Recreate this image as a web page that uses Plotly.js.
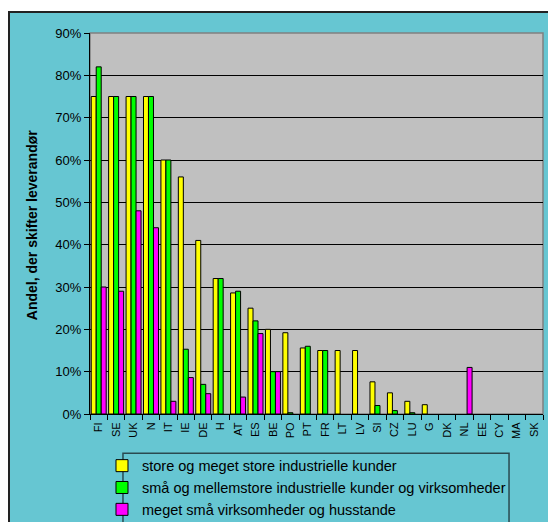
<!DOCTYPE html>
<html>
<head>
<meta charset="utf-8">
<script src="https://cdn.plot.ly/plotly-3.0.1.min.js"></script>
<style>
html,body{margin:0;padding:0;background:#ffffff;width:548px;height:522px;overflow:hidden;}
#frame{position:absolute;left:8px;top:11px;width:540px;height:511px;background:#66C6D2;border-left:2px solid #222;border-top:2px solid #222;box-sizing:border-box;}
#chart{position:absolute;left:0;top:0;width:538px;height:509px;}
</style>
</head>
<body>
<div id="frame"><div id="chart"></div></div>
<script>
const countries = ["FI","SE","UK","N","IT","IE","DE","H","AT","ES","BE","PO","PT","FR","LT","LV","SI","CZ","LU","G","DK","NL","EE","CY","MA","SK"];
const seriesNames = [
  "store og meget store industrielle kunder",
  "små og mellemstore industrielle kunder og virksomheder",
  "meget små virksomheder og husstande"
];
const yTitle = "Andel, der skifter leverandør";
const storeKunder   = [75,75,75,75,60,56,41,32,28.6,25,20,19.2,15.6,15,15,15,7.6,5,3,2.2,null,null,null,null,null,null];
const smaaMellem    = [82,75,75,75,60,15.3,7,32,29,22,10,0.3,16,15,null,null,2,0.8,0.3,null,null,null,null,null,null,null];
const megetSmaa     = [30,29,48,44,3,8.6,4.8,null,4,19,10,null,null,null,null,null,null,null,null,null,null,11,null,null,null,null];

const colors = ["#FFFF00","#00FF00","#FF00FF"];
const values = [storeKunder, smaaMellem, megetSmaa];

const traces = values.map((v,i)=>({
  type:"bar",
  name: seriesNames[i],
  x: countries,
  y: v,
  legendgroup: "g"+i,
  marker:{color:colors[i], line:{color:"#000", width:1}},
  hoverinfo:"none"
}));

const FONT = "Liberation Sans, Arial, sans-serif";
const layout = {
  width:538, height:509,
  paper_bgcolor:"rgba(0,0,0,0)",
  plot_bgcolor:"#C0C0C0",
  margin:{l:80, r:5, t:20, b:108, autoexpand:false},
  barmode:"group",
  bargap:0.14,
  bargroupgap:0,
  font:{family:FONT, color:"#000", size:13},
  xaxis:{
    type:"category",
    tickangle:-90,
    tickson:"boundaries",
    ticks:"outside", ticklen:5, tickcolor:"#000", tickwidth:1,
    ticklabelstandoff:3,
    tickfont:{size:11, family:FONT, color:"#000"},
    showline:true, linecolor:"#000", linewidth:1,
    showgrid:false, zeroline:false,
    fixedrange:true
  },
  yaxis:{
    range:[0,90], dtick:10, ticksuffix:"%",
    ticks:"outside", ticklen:5, tickcolor:"#000", tickwidth:1,
    tickfont:{size:13, family:FONT, color:"#000"},
    showline:true, linecolor:"#000", linewidth:1,
    showgrid:true, gridcolor:"#000", gridwidth:1,
    zeroline:false,
    fixedrange:true
  },
  annotations:[
    {text:"<b>"+yTitle+"</b>", xref:"paper", yref:"paper", x:-0.128, y:0.4957, xanchor:"center", yanchor:"middle",
     textangle:-90, showarrow:false, font:{size:14, family:FONT, color:"#000"}}
  ],
  showlegend:true,
  legend:{
    xref:"container", yref:"container",
    x:0.171, y:0.142, xanchor:"left", yanchor:"top",
    bgcolor:"rgba(0,0,0,0)", borderwidth:0,
    traceorder:"grouped", tracegroupgap:0,
    font:{size:14.5, family:FONT, color:"#000"}
  },
  shapes:[
    {type:"rect", xref:"paper", yref:"paper", x0:0, x1:1, y0:0, y1:1, line:{color:"#808080", width:1.5}, layer:"below"},
    {type:"rect", xref:"paper", yref:"paper", x0:0.0728, x1:0.925, y0:-0.1032, y1:-0.4, line:{color:"#2a4a50", width:1.5}}
  ]
};

Plotly.newPlot("chart", traces, layout, {displayModeBar:false, staticPlot:true});
</script>
</body>
</html>
